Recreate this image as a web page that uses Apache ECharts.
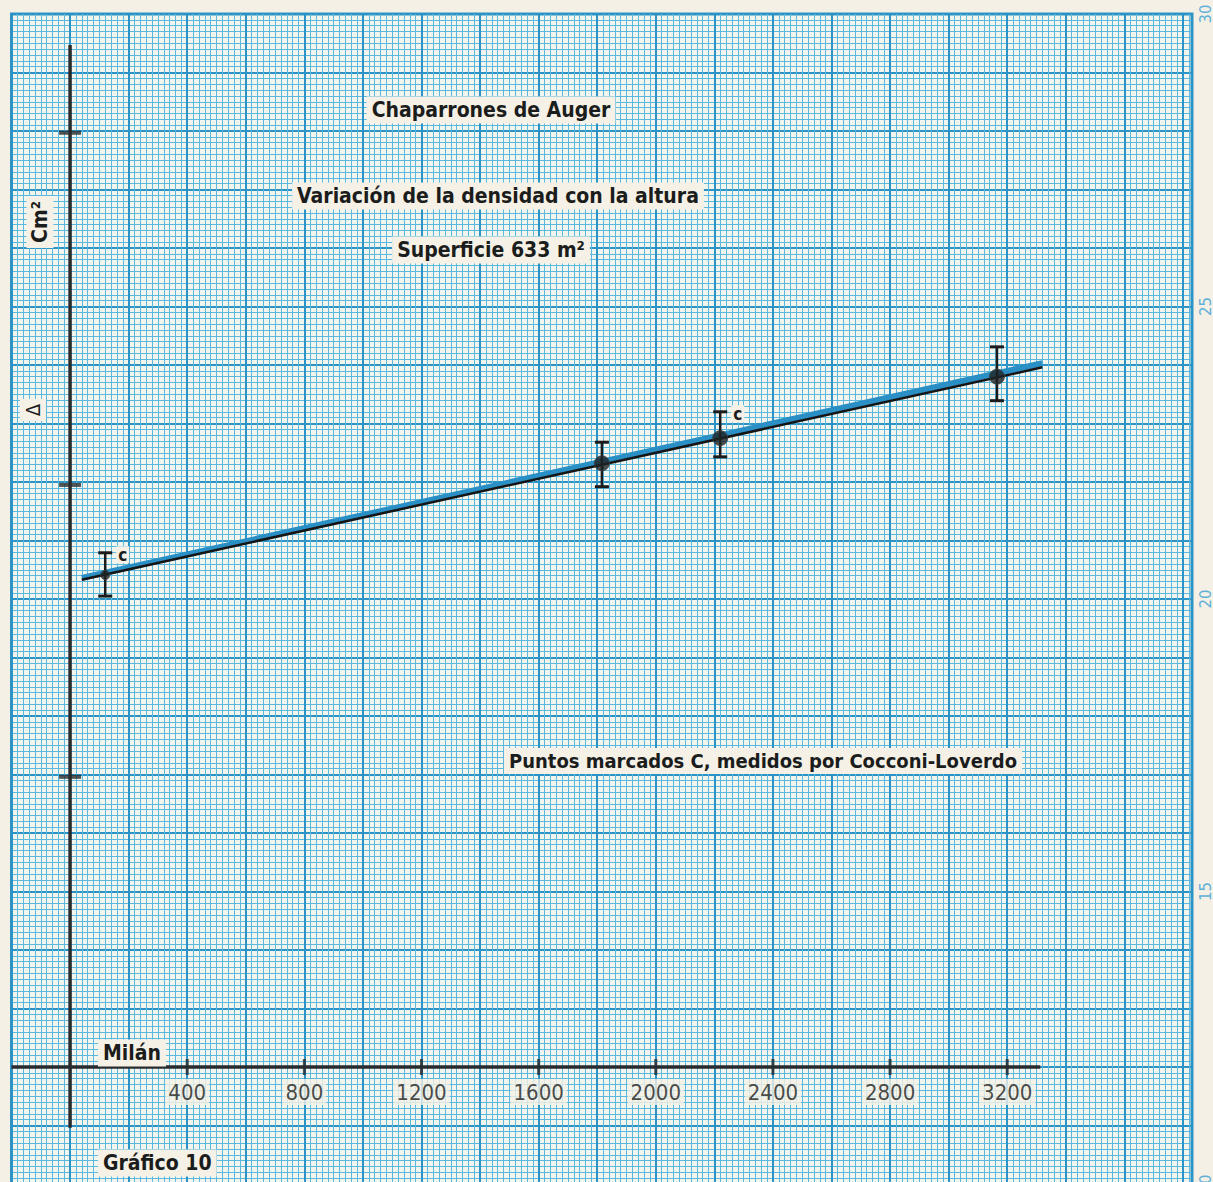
<!DOCTYPE html>
<html><head><meta charset="utf-8">
<script src="https://cdn.jsdelivr.net/npm/echarts@6/dist/echarts.min.js"></script>
<style>html,body{margin:0;padding:0;background:#f5f0e6;}#c{width:1213px;height:1182px;}</style>
</head><body><div id="c"></div>
<script>
// ---- data (altitude in metres, density on the paper's own cm scale, x axis = 0) ----
const altitudes = [120, 1816, 2220, 3165];
const density   = [8.41, 10.32, 10.75, 11.80];
const errLow    = [8.05, 9.92, 10.43, 11.39];
const errHigh   = [8.79, 10.68, 11.20, 12.31];
const pointTags = ['c', '', 'c', ''];
const fitX      = [40, 3320];
const fitBlue   = [8.36, 12.03];
const fitBlack  = [8.33, 11.96];
const xTickLabels = [400, 800, 1200, 1600, 2000, 2400, 2800, 3200];
const yTickMarks  = [4.96, 9.95, 15.97];
const paperScale  = [10, 15, 20, 25, 30];
const xAxisSpan   = [-200, 3313];
const yAxisSpan   = [-1.04, 17.47];
const texts = {
  title: 'Chaparrones de Auger',
  subtitle: 'Variación de la densidad con la altura',
  surface: 'Superficie 633 m²',
  note: 'Puntos marcados C, medidos por Cocconi-Loverdo',
  origin: 'Milán',
  figure: 'Gráfico 10',
  yUnit: 'Cm²',
  yDelta: 'Δ'
};

const FONT = "'Liberation Sans Narrow','DejaVu Sans Condensed','Open Sans',sans-serif";
const INK = '#1b1c1c';
const BOX = '#f5f1e6';

function label(text, x, y, opts) {
  opts = opts || {};
  return {
    type: 'text', x: x, y: y, rotation: opts.rotation || 0, z: 100,
    style: {
      text: text,
      fontFamily: FONT, fontSize: opts.size || 21, fontWeight: opts.weight || 'bold',
      fill: INK, backgroundColor: BOX, padding: opts.padding || [3, 5],
      align: opts.align || 'center', textAlign: opts.align || 'center',
      verticalAlign: 'middle', textVerticalAlign: 'middle'
    }
  };
}

const chart = echarts.init(document.getElementById('c'), null, {renderer: 'svg'});
chart.setOption({
  animation: false,
  backgroundColor: '#f5f0e6',
  grid: {left: 11.5, top: 14, right: 21, bottom: -2, show: true, containLabel: false,
         outerBoundsMode: 'none',
         backgroundColor: '#f2f4ee', borderColor: '#2f93c3', borderWidth: 3},
  xAxis: [{
    type: 'value', min: -200, max: 3831, interval: 200,
    axisLine: {show: false}, axisTick: {show: false}, axisLabel: {show: false},
    splitLine: {show: true, lineStyle: {color: '#2c93c6', width: 2}},
    minorTick: {show: false, splitNumber: 10},
    minorSplitLine: {show: true, lineStyle: {color: '#5db8dd', width: 1}}
  }],
  yAxis: [{
    type: 'value', min: -2, max: 18, interval: 1,
    axisLine: {show: false}, axisTick: {show: false}, axisLabel: {show: false},
    splitLine: {show: true, lineStyle: {color: '#2c93c6', width: 2}},
    minorTick: {show: false, splitNumber: 10},
    minorSplitLine: {show: true, lineStyle: {color: '#5db8dd', width: 1}}
  }, {
    type: 'value', min: 10, max: 30, interval: 5, position: 'right',
    axisLine: {show: false}, axisTick: {show: false}, splitLine: {show: false},
    axisLabel: {customValues: paperScale, rotate: 90, color: '#5fb0d8', fontSize: 15,
                fontFamily: "'DejaVu Sans',sans-serif", margin: 6}
  }],
  series: [
    {type: 'line', xAxisIndex: 0, yAxisIndex: 0, silent: true, symbol: 'none', z: 3,
     data: [[xAxisSpan[0], 0], [xAxisSpan[1], 0]], lineStyle: {color: '#282c2e', width: 3.5}},
    {type: 'line', xAxisIndex: 0, yAxisIndex: 0, silent: true, symbol: 'none', z: 3,
     data: [[0, yAxisSpan[0]], [0, yAxisSpan[1]]], lineStyle: {color: '#282c2e', width: 3.5}},
    {type: 'scatter', xAxisIndex: 0, yAxisIndex: 0, silent: true, z: 4, symbol: 'rect',
     symbolSize: [3, 16], itemStyle: {color: '#282c2e'},
     label: {show: true, position: 'bottom', distance: 4,
             formatter: p => String(p.value[0]),
             color: INK, fontFamily: FONT, fontSize: 22,
             backgroundColor: BOX, padding: [2, 3]},
     data: xTickLabels.map(v => [v, 0])},
    {type: 'scatter', xAxisIndex: 0, yAxisIndex: 0, silent: true, z: 4, symbol: 'rect',
     symbolSize: [22, 4], itemStyle: {color: '#282c2e'},
     data: yTickMarks.map(v => [0, v])},
    {type: 'line', xAxisIndex: 0, yAxisIndex: 0, silent: true, symbol: 'none', z: 5,
     data: fitX.map((x, i) => [x, fitBlue[i]]), lineStyle: {color: '#2a8fc4', width: 6}},
    {type: 'line', xAxisIndex: 0, yAxisIndex: 0, silent: true, symbol: 'none', z: 6,
     data: fitX.map((x, i) => [x, fitBlack[i]]), lineStyle: {color: '#151515', width: 2.5}},
    {type: 'custom', xAxisIndex: 0, yAxisIndex: 0, silent: true, z: 7,
     data: altitudes.map((a, i) => [a, errLow[i], errHigh[i]]),
     renderItem: function (params, api) {
       const x = api.value(0);
       const top = api.coord([x, api.value(2)]);
       const bot = api.coord([x, api.value(1)]);
       const cap = 7;
       const st = {stroke: '#1b1b1b', lineWidth: 2.5};
       const children = [
         {type: 'line', shape: {x1: top[0], y1: top[1], x2: bot[0], y2: bot[1]}, style: st},
         {type: 'line', shape: {x1: top[0] - cap, y1: top[1], x2: top[0] + cap, y2: top[1]}, style: {stroke: '#1b1b1b', lineWidth: 3}},
         {type: 'line', shape: {x1: bot[0] - cap, y1: bot[1], x2: bot[0] + cap, y2: bot[1]}, style: {stroke: '#1b1b1b', lineWidth: 3}}
       ];
       const tag = pointTags[params.dataIndex];
       if (tag) {
         children.push({type: 'text', x: top[0] + 11, y: top[1] + 2,
           style: {text: tag, fontFamily: FONT, fontSize: 17, fontWeight: 'bold', fill: INK,
                   backgroundColor: BOX, padding: [0, 2], align: 'left', verticalAlign: 'middle'}});
       }
       return {type: 'group', children: children};
     }},
    {type: 'scatter', xAxisIndex: 0, yAxisIndex: 0, silent: true, z: 8, symbol: 'circle',
     symbolSize: function (v, p) { return p.dataIndex === 0 ? 9 : 15; },
     itemStyle: {color: '#1f2324', borderColor: '#3b3f40', borderWidth: 1},
     data: altitudes.map((a, i) => [a, density[i]])}
  ],
  graphic: [
    label(texts.title, 491, 110),
    label(texts.subtitle, 498, 196),
    label(texts.surface, 491, 250),
    label(texts.note, 763, 761, {size: 20}),
    label(texts.origin, 98, 1053, {align: 'left'}),
    label(texts.figure, 98, 1163, {align: 'left'}),
    label(texts.yUnit, 40, 222, {rotation: Math.PI / 2}),
    label(texts.yDelta, 33, 410, {rotation: Math.PI / 2, weight: 'normal', size: 20})
  ]
});
</script></body></html>
